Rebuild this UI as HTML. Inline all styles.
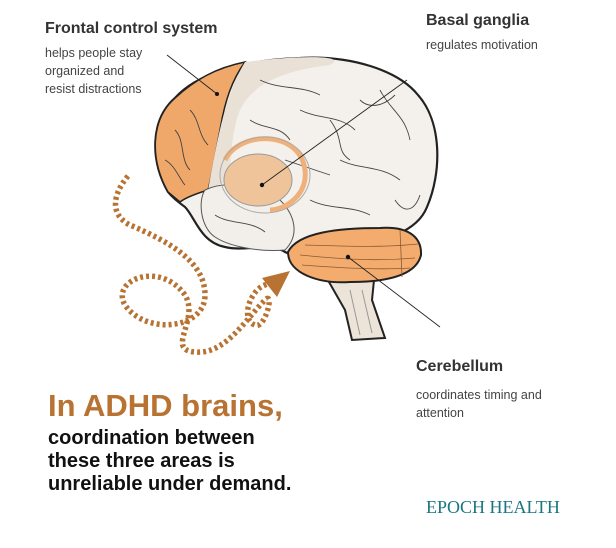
<!DOCTYPE html>
<html><head><meta charset="utf-8"><style>
body{margin:0;width:616px;height:548px;background:#fff;overflow:hidden;font-family:"Liberation Sans",sans-serif;position:relative}
.t{position:absolute;color:#333}
.h{font-weight:bold;font-size:16px}
.s{font-size:12.5px;line-height:18px;color:#444}
</style></head><body>
<svg width="616" height="548" style="position:absolute;left:0;top:0">
<path d="M325,275 L345,310 L352,340 L385,338 L372,300 L375,270 Z" fill="#ece4d8" stroke="#222" stroke-width="2"/>
<path d="M350,290 L360,335 M362,290 L372,333" stroke="#999" fill="none"/>
<path d="M168,192 C150,160 150,120 175,98 C195,75 240,60 300,58 C350,55 398,70 418,95 C442,122 442,172 427,207 C417,232 385,242 340,247 C310,250 295,257 285,252 C270,242 245,252 225,247 C200,242 195,217 185,207 C178,202 172,197 168,192 Z" fill="#f4f1ec" stroke="#222" stroke-width="2.2"/>
<path d="M168,192 C150,160 150,120 175,98 C195,80 215,68 245,62 C232,80 225,100 220,130 C215,155 212,175 208,190 C195,194 185,198 180,202 Z" fill="#f0a86a" stroke="#222" stroke-width="1.5"/>
<path d="M245,62 C300,55 350,55 330,65 C290,70 255,80 240,110 C232,130 230,160 230,180 L208,190 C214,160 222,100 245,62 Z" fill="#e9e1d6"/>
<path d="M205,190 C225,180 260,185 280,200 C295,215 300,235 285,250 C260,252 230,247 215,237 C200,227 198,200 205,190 Z" fill="#f2efea" stroke="#555" stroke-width="1"/>
<g stroke="#444" stroke-width="0.9" fill="none">
<path d="M260,80 C280,90 300,85 320,95 M300,110 C320,120 340,115 355,130 M380,90 C390,110 405,115 410,140 M340,160 C360,170 380,165 400,180 M250,120 C265,130 280,125 290,140 M395,200 C405,215 415,210 420,195 M310,200 C330,210 350,205 370,215 M360,100 C370,110 385,105 395,95 M285,160 C300,165 315,170 330,175 M175,130 C185,140 180,160 190,170 M165,160 C175,165 180,180 185,185 M190,110 C200,120 198,135 208,145 M215,215 C230,225 250,220 265,232 M330,120 C345,140 335,150 350,160"/>
</g>
<ellipse cx="258" cy="180" rx="34" ry="26" fill="#f0c49b" stroke="#999" stroke-width="1"/>
<path d="M225,160 C240,130 300,130 305,170 C308,195 285,210 270,210" fill="none" stroke="#f0b07a" stroke-width="5"/>
<ellipse cx="265" cy="175" rx="45" ry="38" fill="none" stroke="#aaa" stroke-width="1"/>
<path d="M288,252 C298,232 340,228 380,228 C405,226 422,235 421,255 C416,276 385,282 350,282 C320,284 288,274 288,252 Z" fill="#f4ac6e" stroke="#222" stroke-width="2"/>
<path d="M300,255 C330,258 370,262 415,258 M305,245 C340,246 380,248 418,244 M302,265 C340,268 380,270 410,268 M400,230 L402,277" stroke="#8a5a33" stroke-width="0.8" fill="none"/>
<g stroke="#222" stroke-width="0.9">
<line x1="167" y1="55" x2="217" y2="94"/>
<line x1="407" y1="80" x2="262" y2="185"/>
<line x1="348" y1="257" x2="440" y2="327"/>
</g>
<circle cx="217" cy="94" r="2" fill="#111"/><circle cx="262" cy="185" r="2.2" fill="#111"/><circle cx="348" cy="257" r="2.2" fill="#111"/>
<path d="M128,176 C112,195 110,215 130,225 C170,242 205,262 205,295 C205,330 145,335 125,305 C110,280 160,260 185,295 C200,320 165,350 195,352 C225,355 245,320 265,300 C275,290 265,330 255,325 C240,320 250,290 265,285 L272,282" fill="none" stroke="#b87333" stroke-width="5.5" stroke-dasharray="3,3"/>
<polygon points="262,278 290,271 277,297" fill="#b87333"/>
</svg>
<div class="t h" style="left:45px;top:20px">Frontal control system</div>
<div class="t s" style="left:45px;top:44px">helps people stay<br>organized and<br>resist distractions</div>
<div class="t h" style="left:426px;top:12px">Basal ganglia</div>
<div class="t s" style="left:426px;top:36px">regulates motivation</div>
<div class="t h" style="left:416px;top:358px">Cerebellum</div>
<div class="t s" style="left:416px;top:386px">coordinates timing and<br>attention</div>
<div class="t" style="left:48px;top:388px;font-size:31px;font-weight:bold;color:#b87333">In ADHD brains,</div>
<div class="t" style="left:48px;top:427px;font-size:20px;font-weight:bold;color:#111;line-height:23px">coordination between<br>these three areas is<br>unreliable under demand.</div>
<div class="t" style="left:426px;top:497px;font-family:'Liberation Serif',serif;font-size:18px;color:#1a7580">EPOCH HEALTH</div>
</body></html>
